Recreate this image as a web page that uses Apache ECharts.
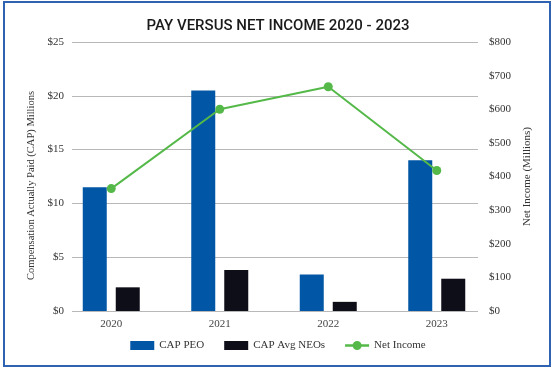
<!DOCTYPE html>
<html>
<head>
<meta charset="utf-8">
<script src="https://cdn.jsdelivr.net/npm/echarts@6/dist/echarts.min.js"></script>
<style>html,body{margin:0;padding:0;background:#fff;}#c{width:556px;height:370px;}</style>
</head>
<body>
<div id="c"></div>
<script>
const categories = ['2020', '2021', '2022', '2023'];
const capPeo = [11.5, 20.5, 3.4, 14.0];
const capAvgNeos = [2.2, 3.8, 0.85, 3.0];
const netIncome = [364, 600, 667, 418];
const leftTicks = { min: 0, max: 25, interval: 5 };
const rightTicks = { min: 0, max: 800, interval: 100 };

const serif = 'Liberation Serif';
const lineIcon = 'path://M0,3.2H8V5.8H0Z M16,3.2H24V5.8H16Z M7.5,4.5A4.5,4.5,0,1,1,16.5,4.5A4.5,4.5,0,1,1,7.5,4.5Z';
const chart = echarts.init(document.getElementById('c'), null, { renderer: 'canvas' });
chart.setOption({
  backgroundColor: '#ffffff',
  animation: false,
  title: {
    text: 'PAY VERSUS NET INCOME 2020 - 2023',
    left: 'center',
    top: 14,
    textStyle: { fontFamily: 'Roboto', fontSize: 15, fontWeight: 500, color: '#1a1a1a' }
  },
  graphic: [{
    type: 'rect', shape: { x: 4, y: 2, width: 546, height: 364 },
    style: { fill: 'none', stroke: '#2f62b0', lineWidth: 2 }, silent: true, z: 100
  }],
  legend: {
    bottom: 14,
    left: 'center',
    itemWidth: 24,
    itemHeight: 9,
    itemGap: 20,
    textStyle: { fontFamily: serif, fontSize: 11, color: '#333' },
    data: [
      { name: 'CAP PEO', icon: 'rect' },
      { name: 'CAP Avg NEOs', icon: 'rect' },
      { name: 'Net Income', icon: lineIcon }
    ]
  },
  grid: [
    { left: 72, right: 78, top: 42, bottom: 59 },
    { left: 57, right: 65, top: 42, bottom: 59 }
  ],
  xAxis: [
    { gridIndex: 0, type: 'value', show: false },
    {
      gridIndex: 1, type: 'category', data: categories,
      axisLine: { show: false }, axisTick: { show: false },
      axisLabel: { fontFamily: serif, fontSize: 11, color: '#444', margin: 8 }
    }
  ],
  yAxis: [
    {
      gridIndex: 0, type: 'value', position: 'left',
      min: leftTicks.min, max: leftTicks.max, interval: leftTicks.interval,
      name: 'Compensation Actually Paid (CAP) Millions',
      nameLocation: 'middle', nameRotate: 90, nameGap: 35,
      nameTextStyle: { fontFamily: serif, fontSize: 10.5, color: '#333', padding: [0, 18, 0, 0] },
      axisLine: { show: false }, axisTick: { show: false },
      axisLabel: { formatter: '${value}', fontFamily: serif, fontSize: 11, color: '#333', margin: 8 },
      splitLine: { show: true, lineStyle: { color: '#b8b8b8', width: 1 } }
    },
    {
      gridIndex: 0, type: 'value', position: 'right',
      min: rightTicks.min, max: rightTicks.max, interval: rightTicks.interval,
      name: 'Net Income (Millions)',
      nameLocation: 'middle', nameRotate: 90, nameGap: 44,
      nameTextStyle: { fontFamily: serif, fontSize: 11, color: '#333' },
      axisLine: { show: false }, axisTick: { show: false },
      axisLabel: { formatter: '${value}', fontFamily: serif, fontSize: 11, color: '#333', margin: 11 },
      splitLine: { show: false }
    },
    { gridIndex: 1, type: 'value', show: false, min: leftTicks.min, max: leftTicks.max, splitLine: { show: false } },
    { gridIndex: 1, type: 'value', show: false, min: rightTicks.min, max: rightTicks.max, splitLine: { show: false } }
  ],
  series: [
    {
      name: 'CAP PEO', type: 'bar', xAxisIndex: 1, yAxisIndex: 2,
      data: capPeo, barWidth: 24, barGap: '37.5%',
      itemStyle: { color: '#0157a6' }
    },
    {
      name: 'CAP Avg NEOs', type: 'bar', xAxisIndex: 1, yAxisIndex: 2,
      data: capAvgNeos, barWidth: 24,
      itemStyle: { color: '#0e0e18' }
    },
    {
      name: 'Net Income', type: 'line', xAxisIndex: 1, yAxisIndex: 3,
      data: netIncome, symbol: 'circle', symbolSize: 9,
      lineStyle: { color: '#54b948', width: 2 },
      itemStyle: { color: '#54b948' }, z: 5
    }
  ]
});
</script>
</body>
</html>
